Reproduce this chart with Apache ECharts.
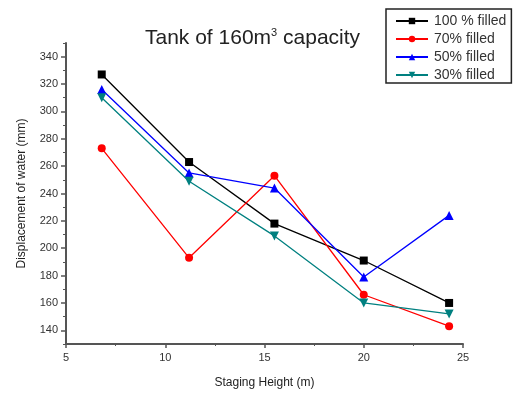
<!DOCTYPE html>
<html>
<head>
<meta charset="utf-8">
<script src="https://cdn.jsdelivr.net/npm/echarts@6/dist/echarts.min.js"></script>
<style>
  html, body { margin: 0; padding: 0; background: #fff; }
  #chart { width: 515px; height: 394px; }
</style>
</head>
<body>
<div id="chart"></div>
<script>
// Staging heights (m) and water displacement (mm) per fill level
const stagingHeight = [6.8, 11.2, 15.5, 20.0, 24.3];
const filled100 = [327, 263, 218, 191, 160];
const filled70  = [273, 193, 253, 166, 143];
const filled50  = [316, 255, 244, 179, 224];
const filled30  = [310, 249, 209, 160, 152];
const seriesNames = ['100 % filled', '70% filled', '50% filled', '30% filled'];
const yTickLabels = [140, 160, 180, 200, 220, 240, 260, 280, 300, 320, 340];
const yMinorTicks = [130, 150, 170, 190, 210, 230, 250, 270, 290, 310, 330, 350];

const pair = (ys) => stagingHeight.map((x, i) => [x, ys[i]]);

const font = 'Liberation Sans, Arial, sans-serif';
const axisColor = '#555';

function lineSeries(name, ys, color, symbol, size, rotate) {
  return {
    name, type: 'line', data: pair(ys),
    symbol, symbolSize: size, symbolRotate: rotate || 0,
    lineStyle: { color, width: 1.3 },
    itemStyle: { color },
    emphasis: { disabled: true }
  };
}

const chart = echarts.init(document.getElementById('chart'));
chart.setOption({
  backgroundColor: '#fff',
  animation: false,
  title: {
    text: '{t|Tank of 160m}{s|3}{t| capacity}',
    left: 140, top: 22,
    textStyle: {
      rich: {
        t: { fontFamily: font, fontSize: 21, fontWeight: 'normal', color: '#222' },
        s: { fontFamily: font, fontSize: 11, fontWeight: 'normal', color: '#222', verticalAlign: 'top', padding: [0, 0, 12, 0] }
      }
    }
  },
  legend: {
    orient: 'vertical',
    left: 386, top: 9,
    padding: [5, 5, 1, 9],
    itemWidth: 32, itemHeight: 8, itemGap: 4,
    borderColor: '#222', borderWidth: 1.5,
    backgroundColor: '#fff',
    textStyle: { fontFamily: font, fontSize: 14, color: '#333', padding: [0, 0, 0, 1] },
    data: seriesNames
  },
  grid: { left: 66, right: 52, top: 43, bottom: 50 },
  xAxis: {
    type: 'value', min: 5, max: 25, interval: 5,
    name: 'Staging Height (m)', nameLocation: 'middle', nameGap: 33,
    nameTextStyle: { fontFamily: font, fontSize: 12, color: '#222' },
    axisLine: { lineStyle: { color: axisColor, width: 2 } },
    axisTick: { length: 4, lineStyle: { color: axisColor, width: 1.5 } },
    minorTick: { show: true, splitNumber: 2, length: 2, lineStyle: { color: axisColor } },
    axisLabel: { fontFamily: font, fontSize: 11, color: '#333', margin: 8 },
    splitLine: { show: false }
  },
  yAxis: [{
    type: 'value', min: 130, max: 350,
    name: 'Displacement of water (mm)', nameLocation: 'middle', nameGap: 38,
    nameTextStyle: { fontFamily: font, fontSize: 12, color: '#222' },
    axisLine: { show: true, lineStyle: { color: axisColor, width: 2 } },
    axisTick: { show: true, length: 5, customValues: yTickLabels, lineStyle: { color: axisColor, width: 1.5 } },
    axisLabel: { fontFamily: font, fontSize: 11, color: '#333', margin: 8, customValues: yTickLabels },
    splitLine: { show: false }
  }, {
    type: 'value', min: 130, max: 350, position: 'left',
    axisLine: { show: false },
    axisTick: { show: true, length: 3, customValues: yMinorTicks, lineStyle: { color: axisColor, width: 1 } },
    axisLabel: { show: false, customValues: yMinorTicks },
    splitLine: { show: false }
  }],
  series: [
    lineSeries(seriesNames[0], filled100, '#000000', 'rect', 8),
    lineSeries(seriesNames[1], filled70, '#ff0000', 'circle', 8),
    lineSeries(seriesNames[2], filled50, '#0000ff', 'triangle', 9),
    lineSeries(seriesNames[3], filled30, '#008080', 'triangle', 9, 180)
  ]
});
</script>
</body>
</html>
